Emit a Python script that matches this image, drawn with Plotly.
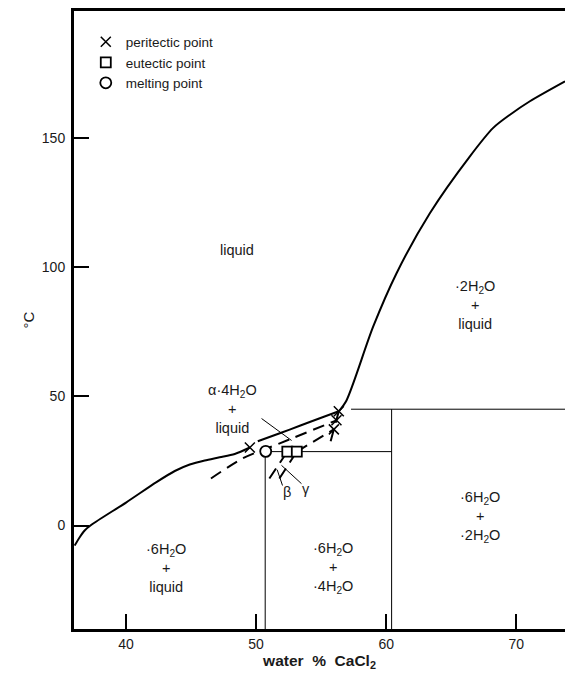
import plotly.graph_objects as go

# ---- data ----
# 6H2O liquidus (solid)
hex_liq_x = [36.05, 36.44, 36.82, 37.34, 40.03, 42.34, 43.75, 44.9, 46.05, 47.2, 48.36, 49.52]
hex_liq_t = [-7.75, -4.5, -1.9, 0.3, 9.0, 16.8, 21.1, 23.6, 25.2, 26.4, 27.7, 30.2]
# alpha-4H2O liquidus (solid)
a4_liq_x = [50.13, 51.82, 53.36, 54.9, 56.36]
a4_liq_t = [32.6, 35.7, 38.6, 41.5, 44.2]
# 2H2O liquidus (solid)
di_liq_x = [56.36, 56.95, 59.0, 60.8, 63.36, 66.44, 68.23, 69.52, 71.05, 73.75]
di_liq_t = [44.2, 48.4, 76.9, 97.6, 120.8, 142.8, 153.8, 158.9, 164.1, 171.8]
# metastable (dashed) curves
meta_a_x = [46.53, 48.98, 51.82, 56.18]
meta_a_t = [18.2, 26.0, 31.8, 40.7]
meta_b_x = [53.13, 55.98]
meta_b_t = [28.6, 37.2]
beta_x = [51.02, 52.4]
beta_t = [18.2, 28.6]
gamma_x = [51.79, 53.13]
gamma_t = [18.2, 28.6]
meta_c_x = [56.36, 56.18, 55.98, 55.6]
meta_c_t = [44.2, 40.7, 37.2, 30.2]

# invariant points
peritectic_x = [49.52, 56.36, 56.18, 55.98]
peritectic_t = [30.2, 44.2, 40.7, 37.2]
eutectic_x = [52.4, 53.13]
eutectic_t = [28.6, 28.6]
melting_x = [50.74]
melting_t = [28.7]

# straight phase boundaries
hex_comp = 50.7
tetra_comp = 60.42
eut_temp = 28.6
per_temp = 45.0
per_start = 57.3
t_min = -40
x_max = 75

# leader lines
alpha_lead_x = [50.42, 52.73]
alpha_lead_t = [41.4, 32.9]
beta_lead_x = [52.03, 51.62]
beta_lead_t = [15.5, 21.6]
gamma_lead_x = [53.49, 51.95]
gamma_lead_t = [16.2, 23.3]

# region labels
label_text = [
    "liquid",
    "α·4H<sub>2</sub>O<br>+<br>liquid",
    "·2H<sub>2</sub>O<br>+<br>liquid",
    "·6H<sub>2</sub>O<br>+<br>·2H<sub>2</sub>O",
    "·6H<sub>2</sub>O<br>+<br>liquid",
    "·6H<sub>2</sub>O<br>+<br>·4H<sub>2</sub>O",
    "β",
    "γ",
]
label_x = [48.53, 48.2, 66.85, 67.2, 43.07, 55.9, 52.38, 53.82]
label_t = [106.6, 45.0, 85.3, 3.5, -16.3, -16.3, 12.8, 14.0]

x_ticks = [40, 50, 60, 70]
y_ticks = [0, 50, 100, 150]

FONT = "Liberation Sans, Arial, sans-serif"
INK = "#1a1a1a"
DASH = "12px,7px"
FS = 14.5

fig = go.Figure()

def line(x, y, width=2, dash="solid", shape="spline"):
    fig.add_trace(go.Scatter(x=x, y=y, mode="lines", showlegend=False,
                             line=dict(color="black", width=width, dash=dash, shape=shape,
                                       smoothing=0.8),
                             hoverinfo="skip"))

# solid liquidus curves
line(hex_liq_x, hex_liq_t)
line(a4_liq_x, a4_liq_t)
line(di_liq_x, di_liq_t)
# dashed metastable curves
line(meta_a_x, meta_a_t, dash=DASH)
line(meta_b_x, meta_b_t, dash=DASH, shape="linear")
line(beta_x, beta_t, dash=DASH, shape="linear")
line(gamma_x, gamma_t, dash=DASH, shape="linear")
line(meta_c_x, meta_c_t, dash=DASH, shape="linear")
# straight boundaries
line([hex_comp, hex_comp], [melting_t[0], t_min], width=1, shape="linear")
line([tetra_comp, tetra_comp], [per_temp, t_min], width=1, shape="linear")
line([hex_comp, tetra_comp], [eut_temp, eut_temp], width=1, shape="linear")
line([per_start, x_max], [per_temp, per_temp], width=1, shape="linear")
# leader lines
line(alpha_lead_x, alpha_lead_t, width=1, shape="linear")
line(beta_lead_x, beta_lead_t, width=1, shape="linear")
line(gamma_lead_x, gamma_lead_t, width=1, shape="linear")

# markers (also the legend)
fig.add_trace(go.Scatter(x=peritectic_x, y=peritectic_t, mode="markers", name="peritectic point",
                         marker=dict(symbol="x-thin-open", size=10, color="black",
                                     line=dict(color="black", width=1.5))))
fig.add_trace(go.Scatter(x=eutectic_x, y=eutectic_t, mode="markers", name="eutectic point",
                         marker=dict(symbol="square", size=10, color="white",
                                     line=dict(color="black", width=1.8))))
fig.add_trace(go.Scatter(x=melting_x, y=melting_t, mode="markers", name="melting point",
                         marker=dict(symbol="circle", size=11, color="white",
                                     line=dict(color="black", width=1.8))))

for txt, lx, ly in zip(label_text, label_x, label_t):
    fig.add_annotation(x=lx, y=ly, text=txt, showarrow=False,
                       font=dict(family=FONT, size=FS, color=INK), align="center")

fig.update_layout(
    width=565, height=673,
    margin=dict(l=74, r=0, t=11, b=44),
    paper_bgcolor="white", plot_bgcolor="white",
    font=dict(family=FONT, size=FS, color=INK),
    showlegend=True,
    legend=dict(x=0.024, y=0.975, xanchor="left", yanchor="top",
                bgcolor="rgba(0,0,0,0)", font=dict(family=FONT, size=13.5, color=INK),
                itemwidth=30, tracegroupgap=0),
    xaxis=dict(range=[36, 73.75], tickvals=x_ticks, ticks="inside", ticklen=15, tickwidth=1.5,
               tickcolor="black", showline=True, linewidth=3, linecolor="black", mirror=True,
               showgrid=False, zeroline=False, tickfont=dict(size=14),
               title=dict(text="<b>water  %  CaCl<sub>2</sub></b>", font=dict(size=15.5, color=INK),
                          standoff=4)),
    yaxis=dict(range=[-40, 199], tickvals=y_ticks, ticks="inside", ticklen=15, tickwidth=1.5,
               tickcolor="black", showline=True, linewidth=3, linecolor="black", mirror=False,
               showgrid=False, zeroline=False, tickfont=dict(size=14), ticklabelstandoff=3,
               title=dict(text="°C", font=dict(size=15, color=INK), standoff=4)),
)

fig.write_html("out.html", post_script="document.body.style.margin='0px';",
               config={"displayModeBar": False})
